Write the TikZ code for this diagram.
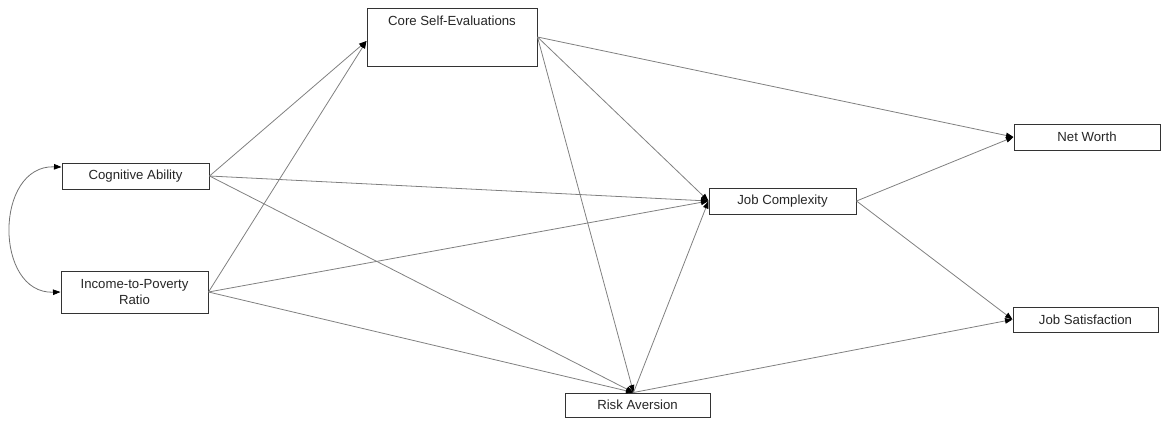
\documentclass[tikz,border=0pt]{standalone}
\usepackage{fontspec}
\setmainfont{Liberation Sans}
\usetikzlibrary{arrows.meta}
\begin{document}
\begin{tikzpicture}[x=1pt,y=-1pt,
  box/.style={draw=black!80, line width=1pt, fill=white, inner sep=0pt,
    minimum width=147pt, minimum height=26pt, align=center,
    font=\fontsize{13.2}{15.5}\selectfont, text=black!85},
  path/.style={draw=black!50, line width=0.8pt,
    -{Triangle[length=7.5pt,width=5.5pt,color=black]}},
  covar/.style={draw=black!55, line width=0.8pt,
    {Triangle[length=7.5pt,width=5.5pt,color=black]}-{Triangle[length=7.5pt,width=5.5pt,color=black]}}]
\useasboundingbox (0,0) rectangle (1161,421);
% variables
\node[box] (CA) at (135.5,176) {Cognitive Ability};
\node[box, minimum height=42pt] (IP) at (134.5,292) {Income-to-Poverty\\Ratio};
\node[box, minimum width=170pt, minimum height=58pt, text height=17.5pt, text depth=40.5pt] (CSE) at (452,37) {Core Self-Evaluations};
\node[box] (JC) at (782.5,201) {Job Complexity};
\node[box, minimum width=145pt, minimum height=24pt] (RA) at (637.5,405) {Risk Aversion};
\node[box, minimum width=146pt] (NW) at (1087,137) {Net Worth};
\node[box, minimum width=145pt, minimum height=25pt] (JS) at (1085.5,319.5) {Job Satisfaction};
% correlation between the exogenous variables
\draw[covar] ([yshift=9pt]CA.west) .. controls (-6,165) and (-6,294) .. (IP.west);
% structural paths
\begin{scope}[on background layer/.try]
\draw[path] (CA.east) -- ([yshift=-4pt]CSE.west);
\draw[path] (IP.east) -- ([yshift=-4pt]CSE.west);
\draw[path] (CA.east) -- (JC.west);
\draw[path] (IP.east) -- (JC.west);
\draw[path] (CA.east) -- ([xshift=-4pt]RA.north);
\draw[path] (IP.east) -- ([xshift=-4pt]RA.north);
\draw[path] (CSE.east) -- (NW.west);
\draw[path] (CSE.east) -- (JC.west);
\draw[path] (CSE.east) -- ([xshift=-4pt]RA.north);
\draw[path] ([xshift=-4pt]RA.north) -- (JC.west);
\draw[path] ([xshift=-4pt]RA.north) -- (JS.west);
\draw[path] (JC.east) -- (NW.west);
\draw[path] (JC.east) -- (JS.west);
\end{scope}
\end{tikzpicture}
\end{document}
